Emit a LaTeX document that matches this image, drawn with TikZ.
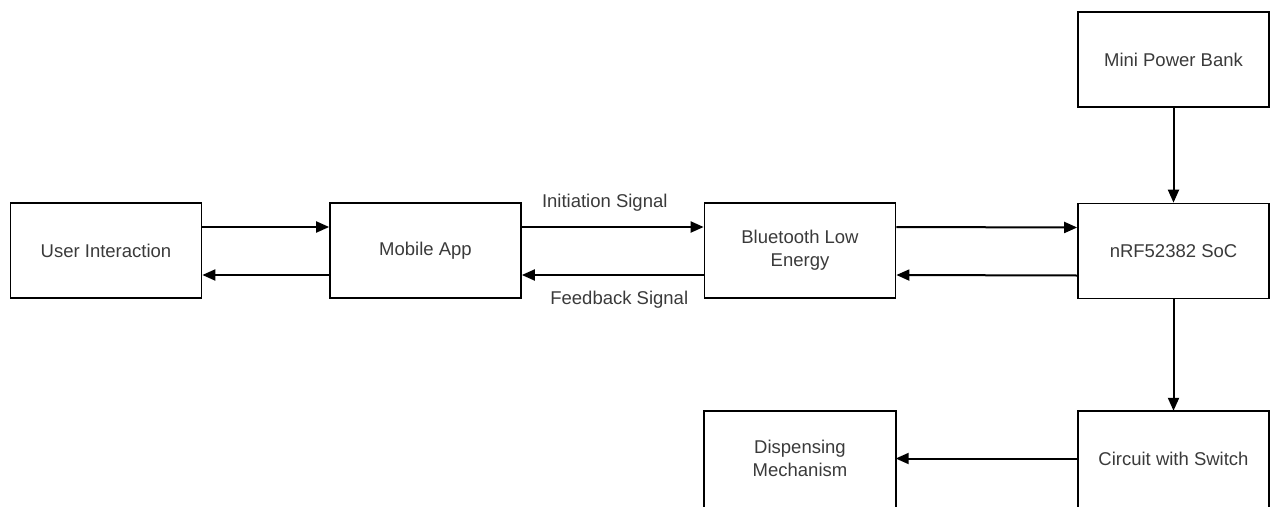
\documentclass[tikz,border=0pt]{standalone}
\usepackage{fontspec}
\setmainfont{Liberation Sans}
\usetikzlibrary{arrows.meta}
\definecolor{txt}{HTML}{3A3A3A}
\begin{document}
\begin{tikzpicture}[x=1pt,y=-1pt,
  boxtext/.style={minimum width=191pt,minimum height=95pt,inner sep=0pt,
    align=center,text=txt,font=\fontsize{18.5}{23}\selectfont},
  box/.style={boxtext,draw=black,line width=1.7pt},
  outline/.style={draw=black,line width=1.7pt},
  conn/.style={line width=2pt,-{Triangle[length=13pt,width=11pt]}},
  lbl/.style={text=txt,font=\fontsize{18.5}{23}\selectfont,inner sep=0pt}]
\useasboundingbox (0,0) rectangle (1271,506);
\node[box] (ui) at (106,250.5) {User Interaction};
\node[box] (app) at (425.5,250.5) {Mobile App};
\node[box] (ble) at (800,250.5) {Bluetooth Low\\Energy};
\node[box] (nrf) at (1173.5,251) {nRF52382 SoC};
\node[box] (pb) at (1173.5,59.5) {Mini Power Bank};
\node[boxtext] (cs) at (1173.5,458.5) {Circuit with Switch};
\node[boxtext] (dm) at (800,458.5) {Dispensing\\Mechanism};
\draw[outline] ([yshift=-20pt]cs.south west) |- (cs.north east) -- ([yshift=-20pt]cs.south east);
\draw[outline] ([yshift=-20pt]dm.south west) |- (dm.north east) -- ([yshift=-20pt]dm.south east);
\draw[conn] ([yshift=23.5pt]ui.east) -- ([yshift=23.5pt]app.west);
\draw[conn] ([yshift=-24.5pt]app.west) -- ([yshift=-24.5pt]ui.east);
\draw[conn] ([yshift=23.5pt]app.east) -- node[lbl,above=15pt,xshift=-8pt] (ini) {Initiation Signal} ([yshift=23.5pt]ble.west);
\draw[conn] ([yshift=-24.5pt]ble.west) -- node[lbl,below=15pt,xshift=6.5pt] (fb) {Feedback Signal} ([yshift=-24.5pt]app.east);
\draw[conn] ([yshift=23.5pt]ble.east) -- ([yshift=23.5pt]nrf.west);
\draw[conn] ([yshift=-24.5pt]nrf.west) -- ([yshift=-24.5pt]ble.east);
\draw[conn] (pb.south) -- (nrf.north);
\draw[conn] (nrf.south) -- (cs.north);
\draw[conn] (cs.west) -- (dm.east);
\end{tikzpicture}
\end{document}
